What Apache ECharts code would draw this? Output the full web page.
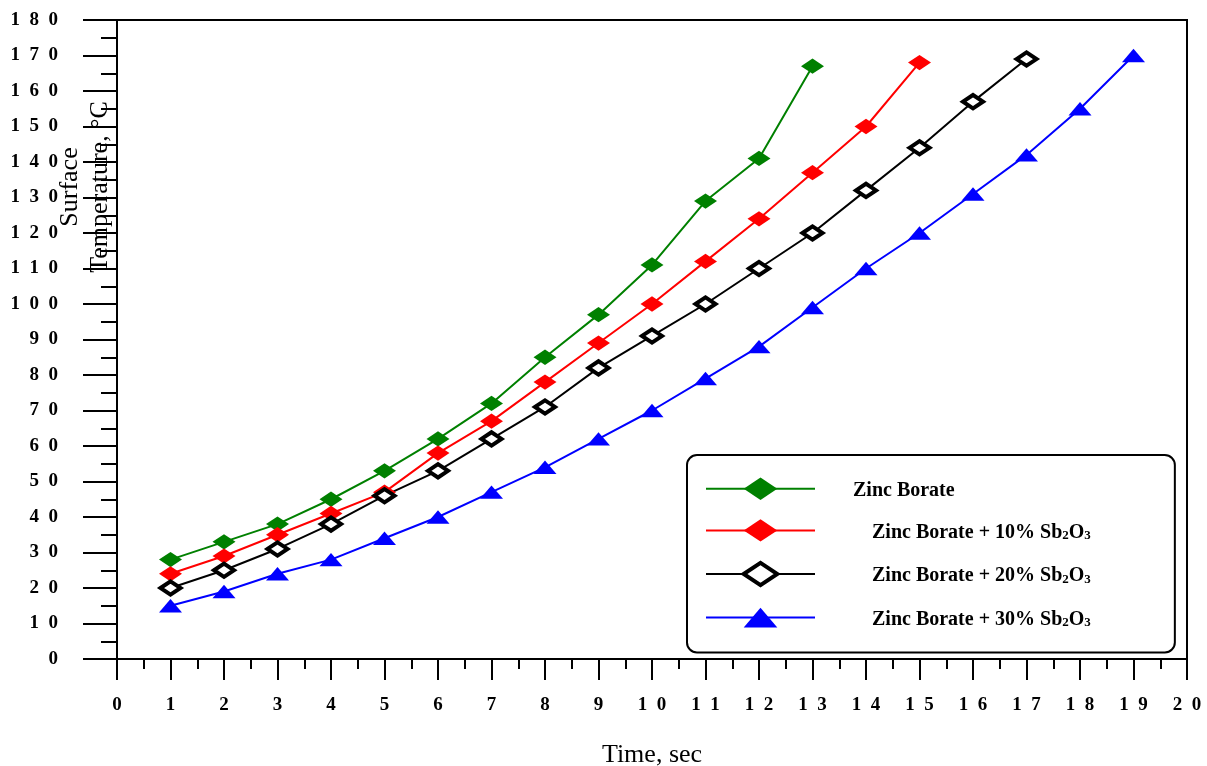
<!DOCTYPE html>
<html>
<head>
<meta charset="utf-8">
<script src="https://cdn.jsdelivr.net/npm/echarts@6/dist/echarts.min.js"></script>
<style>html,body{margin:0;padding:0;background:#fff}#c{width:1207px;height:766px}</style>
</head>
<body>
<div id="c"></div>
<script>
const seriesNames = ['Zinc Borate', 'Zinc Borate + 10% Sb2O3', 'Zinc Borate + 20% Sb2O3', 'Zinc Borate + 30% Sb2O3'];
const timeZB   = [1,2,3,4,5,6,7,8,9,10,11,12,13];
const valZB    = [28,33,38,45,53,62,72,85,97,111,129,141,167];
const time10   = [1,2,3,4,5,6,7,8,9,10,11,12,13,14,15];
const val10    = [24,29,35,41,47,58,67,78,89,100,112,124,137,150,168];
const time20   = [1,2,3,4,5,6,7,8,9,10,11,12,13,14,15,16,17];
const val20    = [20,25,31,38,46,53,62,71,82,91,100,110,120,132,144,157,169];
const time30   = [1,2,3,4,5,6,7,8,9,10,11,12,13,14,15,16,17,18,19];
const val30    = [15,19,24,28,34,40,47,54,62,70,79,88,99,110,120,131,142,155,170];

const SERIF = "'Liberation Serif','Times New Roman',serif";
const pairs = (xs, ys) => xs.map((x, i) => [x, ys[i]]);
const spaced = v => String(v).split('').join('\u2002');

// square-bbox paths so wide shapes keep their aspect in both plot and legend
const DIAMOND = 'path://M0,0M36,36M0,18L18,6L36,18L18,30Z';
const TRIANGLE = 'path://M0,0M36,36M18,7.5L36,28.5L0,28.5Z';

const legendRich = {
  sp1: {width: 33},
  sp2: {width: 52},
  t: {fontFamily: SERIF, fontWeight: 'bold', fontSize: 20, color: '#000', lineHeight: 24, verticalAlign: 'bottom'},
  sub: {fontFamily: SERIF, fontWeight: 'bold', fontSize: 13, color: '#000', lineHeight: 16, verticalAlign: 'bottom'}
};
function legendFmt(name) {
  if (name === seriesNames[0]) return '{sp1|}{t|Zinc Borate}';
  const pct = name.match(/(\d+)%/)[1];
  return '{sp2|}{t|Zinc Borate + ' + pct + '% Sb}{sub|2}{t|O}{sub|3}';
}

const chart = echarts.init(document.getElementById('c'), null, {renderer: 'canvas'});
chart.setOption({
  animation: false,
  backgroundColor: '#fff',
  grid: {left: 117, right: 20, top: 20, bottom: 107, containLabel: false, outerBoundsMode: 'none',
         show: true, borderColor: '#000', borderWidth: 2},
  xAxis: {
    type: 'value', min: 0, max: 20, interval: 1,
    name: 'Time, sec', nameLocation: 'middle', nameGap: 83, nameMoveOverlap: false,
    nameTextStyle: {fontFamily: SERIF, fontSize: 26, color: '#000'},
    axisLine: {lineStyle: {color: '#000', width: 2}},
    axisTick: {length: 21, lineStyle: {color: '#000', width: 2}},
    minorTick: {show: true, splitNumber: 2, length: 10, lineStyle: {color: '#000', width: 2}},
    splitLine: {show: false},
    axisLabel: {margin: 37, fontFamily: SERIF, fontWeight: 'bold', fontSize: 19, color: '#000', formatter: spaced}
  },
  yAxis: {
    type: 'value', min: 0, max: 180, interval: 10,
    name: 'Surface\nTemperature, °C', nameLocation: 'middle', nameRotate: 90, nameGap: 2, nameMoveOverlap: false,
    nameTextStyle: {fontFamily: SERIF, fontSize: 26, color: '#000', lineHeight: 30, padding: [0, 0, 0, 305]},
    axisLine: {lineStyle: {color: '#000', width: 2}},
    axisTick: {length: 34, lineStyle: {color: '#000', width: 2}},
    minorTick: {show: true, splitNumber: 2, length: 16, lineStyle: {color: '#000', width: 2}},
    splitLine: {show: false},
    axisLabel: {margin: 59, fontFamily: SERIF, fontWeight: 'bold', fontSize: 19, color: '#000', formatter: spaced}
  },
  legend: {
    orient: 'vertical', left: 687, top: 455,
    padding: [17, 84, 18, 18],
    itemWidth: 109, itemHeight: 42, itemGap: 8,
    borderColor: '#000', borderWidth: 2, borderRadius: 10,
    backgroundColor: '#fff',
    formatter: legendFmt,
    textStyle: {rich: legendRich},
    data: [
      seriesNames[0],
      seriesNames[1],
      {name: seriesNames[2], itemStyle: {borderWidth: 4, borderColor: '#000', color: '#fff'}},
      seriesNames[3]
    ]
  },
  series: [
    {name: seriesNames[0], type: 'line', data: pairs(timeZB, valZB), symbol: DIAMOND, symbolSize: 23,
     lineStyle: {color: '#008000', width: 2}, itemStyle: {color: '#008000'}},
    {name: seriesNames[1], type: 'line', data: pairs(time10, val10), symbol: DIAMOND, symbolSize: 23,
     lineStyle: {color: '#ff0000', width: 2}, itemStyle: {color: '#ff0000'}},
    {name: seriesNames[2], type: 'line', data: pairs(time20, val20), symbol: DIAMOND, symbolSize: 20,
     lineStyle: {color: '#000000', width: 2}, itemStyle: {color: '#ffffff', borderColor: '#000000', borderWidth: 4}},
    {name: seriesNames[3], type: 'line', data: pairs(time30, val30), symbol: TRIANGLE, symbolSize: 23,
     lineStyle: {color: '#0000ff', width: 2}, itemStyle: {color: '#0000ff'}}
  ]
});
</script>
</body>
</html>
